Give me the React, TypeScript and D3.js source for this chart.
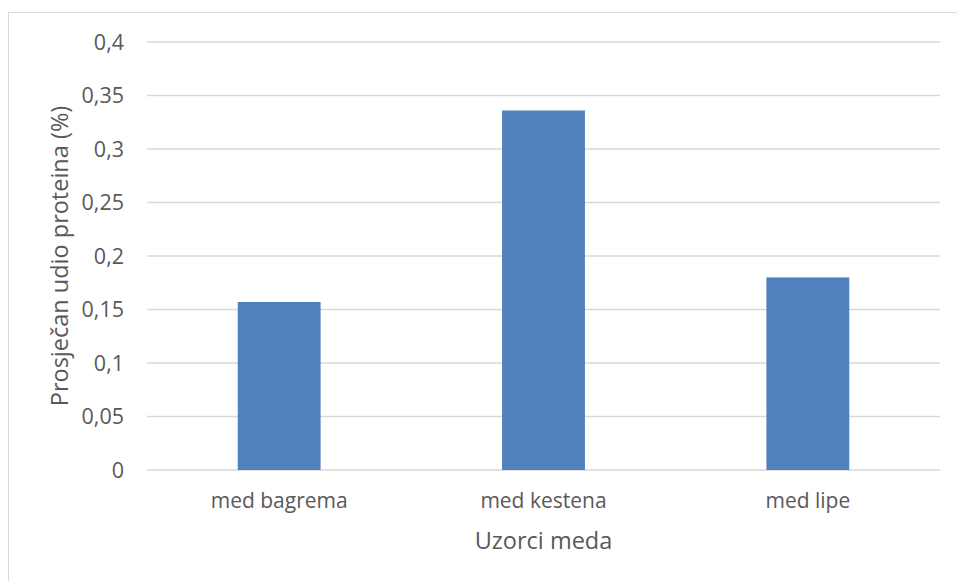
import { useEffect, useRef } from 'react';
import * as d3 from 'd3';

const categories = ["med bagrema", "med kestena", "med lipe"];
const values = [0.157, 0.336, 0.18];
const yTicks = [0, 0.05, 0.1, 0.15, 0.2, 0.25, 0.3, 0.35, 0.4];
const yTitle = "Prosječan udio proteina (%)";
const xTitle = "Uzorci meda";

const W = 957, H = 581;
const FONT = "'Open Sans', sans-serif";

const App = () => {
    const ref = useRef<SVGSVGElement>(null);

    useEffect(() => {
        const svg = d3.select(ref.current);
        svg.selectAll("*").remove();

        let plot = { left: 147, right: 940, top: 42, bottom: 470 };

        // chart frame
        svg.append("rect")
            .attr("x", 8.5).attr("y", 12.5)
            .attr("width", W + 20).attr("height", H + 20)
            .style("fill", "#ffffff")
            .style("stroke", "#d9d9d9")
            .style("stroke-width", 1);

        let x = d3.scaleBand().domain(categories).range([plot.left, plot.right]).padding(0);
        let y = d3.scaleLinear().domain([0, 0.4]).range([plot.bottom, plot.top]);
        let barW = x.bandwidth() / 3.19;

        // grid
        svg.append("g")
            .selectAll("line")
            .data(yTicks)
            .join("line")
            .attr("x1", plot.left).attr("x2", plot.right)
            .attr("y1", (d) => y(d)).attr("y2", (d) => y(d))
            .style("stroke", "#d9d9d9")
            .style("stroke-width", 1.3);

        let fmt = (d: number) => String(d).replace(".", ",");

        svg.append("g")
            .selectAll("text")
            .data(yTicks)
            .join("text")
            .attr("x", 124)
            .attr("y", (d) => y(d))
            .attr("dy", "0.35em")
            .attr("text-anchor", "end")
            .style("font-family", FONT)
            .style("font-size", "21.5px")
            .style("fill", "#595959")
            .text(fmt);

        svg.append("g")
            .selectAll("rect")
            .data(values)
            .join("rect")
            .attr("x", (d, i) => (x(categories[i]) as number) + (x.bandwidth() - barW) / 2)
            .attr("width", barW)
            .attr("y", (d) => y(d))
            .attr("height", (d) => y(0) - y(d))
            .style("fill", "#4f81bd");

        svg.append("g")
            .selectAll("text")
            .data(categories)
            .join("text")
            .attr("x", (d) => (x(d) as number) + x.bandwidth() / 2)
            .attr("y", 501)
            .attr("dy", "0.35em")
            .attr("text-anchor", "middle")
            .style("font-family", FONT)
            .style("font-size", "21px")
            .style("fill", "#595959")
            .text((d) => d);

        svg.append("text")
            .attr("x", (plot.left + plot.right) / 2)
            .attr("y", 541)
            .attr("dy", "0.35em")
            .attr("text-anchor", "middle")
            .style("font-family", FONT)
            .style("font-size", "23.5px")
            .style("fill", "#595959")
            .text(xTitle);

        svg.append("text")
            .attr("transform", `translate(60, ${(plot.top + plot.bottom) / 2}) rotate(-90)`)
            .attr("dy", "0.35em")
            .attr("text-anchor", "middle")
            .style("font-family", FONT)
            .style("font-size", "23.5px")
            .style("fill", "#595959")
            .text(yTitle);
    }, []);

    return (
        <svg ref={ref} width={W} height={H}
            style={{ position: "absolute", left: 0, top: 0, display: "block" }} />
    );
};

export default App;
